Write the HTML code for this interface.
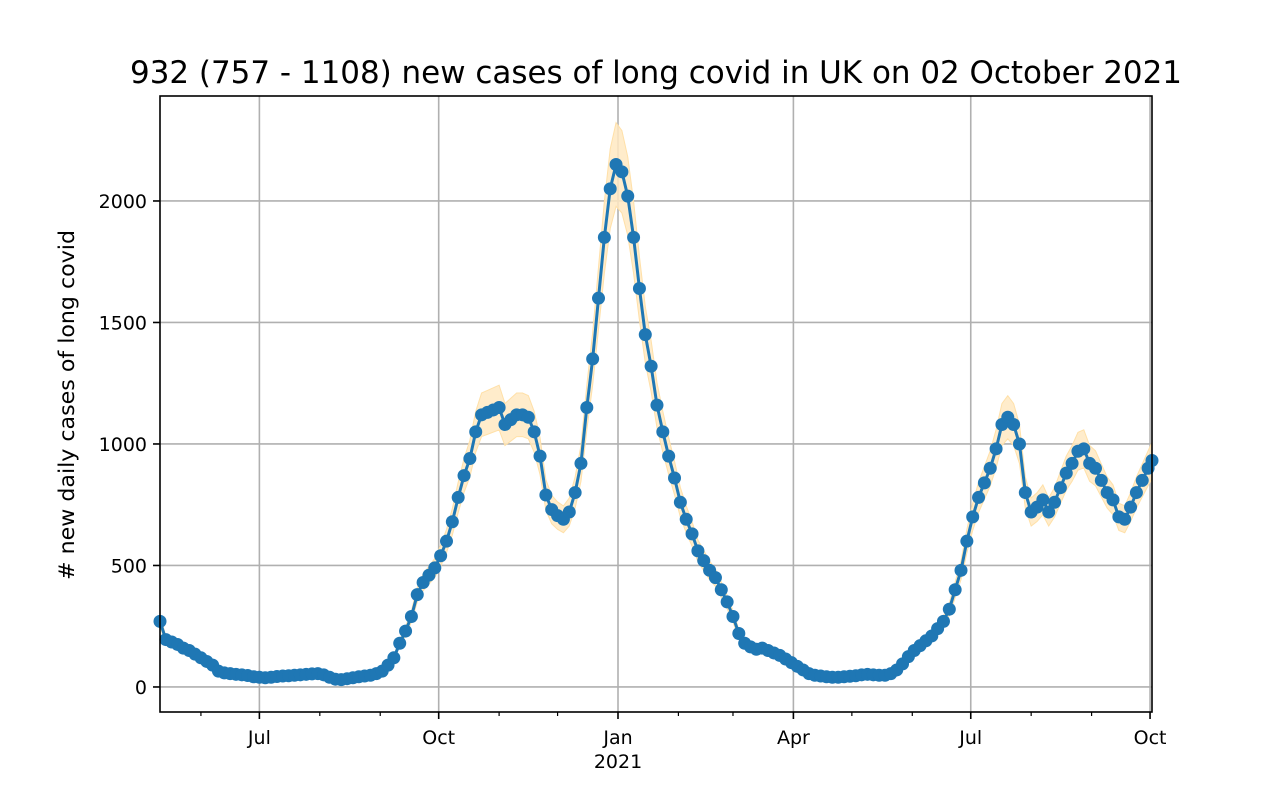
<!DOCTYPE html>
<html><head><meta charset="utf-8">
<style>
html,body{margin:0;padding:0;background:#fff;width:1280px;height:800px;overflow:hidden}
svg{font-family:"DejaVu Sans","Liberation Sans",sans-serif}
</style></head>
<body>
<svg id="chart" width="1280" height="800" viewBox="0 0 1280 800" xmlns="http://www.w3.org/2000/svg">
<rect width="1280" height="800" fill="#fff"/>
<text x="656" y="83" text-anchor="middle" font-size="31" textLength="1052" lengthAdjust="spacingAndGlyphs" fill="#000">932 (757 - 1108) new cases of long covid in UK on 02 October 2021</text>
<text transform="translate(74,405) rotate(-90)" text-anchor="middle" font-size="21" textLength="350" lengthAdjust="spacingAndGlyphs" fill="#000"># new daily cases of long covid</text>
<g id="grid"></g>
<g id="band"></g>
<g id="series"></g>
<g id="axes"></g>
</svg>
<script>
// Data: start 2020-05-11, one value every 3 days, plus final value on 2021-10-02
const startDate = "2020-05-11";
const stepDays = 3;
const values = [270,195,185,175,160,150,135,120,105,90,65,58,55,52,50,47,42,40,38,40,43,45,46,48,50,52,54,55,50,40,32,30,34,38,42,45,48,55,65,90,120,180,230,290,380,430,460,490,540,600,680,780,870,940,1050,1120,1130,1140,1150,1080,1100,1120,1120,1110,1050,950,790,730,705,690,720,800,920,1150,1350,1600,1850,2050,2150,2120,2020,1850,1640,1450,1320,1160,1050,950,860,760,690,630,560,520,480,450,400,350,290,220,180,165,155,160,150,140,130,115,100,85,70,55,48,45,42,40,40,42,44,46,50,52,50,48,48,55,70,95,125,150,170,190,210,240,270,320,400,480,600,700,780,840,900,980,1080,1110,1080,1000,800,720,740,770,720,760,820,880,920,970,980,920,900,850,800,770,700,690,740,800,850,900];
const finalDate = "2021-10-02";
const finalValue = 932;
const yTicks = [0,500,1000,1500,2000];
const yTickLabels = ["0","500","1000","1500","2000"];
const xMajorDates = ["2020-07-01","2020-10-01","2021-01-01","2021-04-01","2021-07-01","2021-10-01"];
const xMajorLabels = ["Jul","Oct","Jan","Apr","Jul","Oct"];
const xMinorDates = ["2020-06-01","2020-08-01","2020-09-01","2020-11-01","2020-12-01","2021-02-01","2021-03-01","2021-05-01","2021-06-01","2021-08-01","2021-09-01"];

const L=160,R=1152,T=96,B=712;
const DAY=86400000;
const d0=Date.parse(startDate), d1=Date.parse(finalDate);
const yMin=-103, yMax=2432;
function xs(ms){return L+(ms-d0)/(d1-d0)*(R-L);}
function ys(v){return B-(v-yMin)/(yMax-yMin)*(B-T);}
const NS="http://www.w3.org/2000/svg";
function mk(tag,parent,attrs){const e=document.createElementNS(NS,tag);for(const k in attrs)e.setAttribute(k,attrs[k]);parent.appendChild(e);return e;}

const pts=values.map((v,i)=>[d0+i*stepDays*DAY,v]);
pts.push([d1,finalValue]);

const grid=document.getElementById('grid');
yTicks.forEach(v=>{const l=mk('line',grid,{x1:L,x2:R,y1:ys(v),y2:ys(v),stroke:'#b0b0b0','stroke-width':1.6});

});
xMajorDates.forEach(d=>{const x=xs(Date.parse(d));const l=mk('line',grid,{x1:x,x2:x,y1:T,y2:B,stroke:'#b0b0b0','stroke-width':1.6});

});

const band=document.getElementById('band');
let up=pts.map(p=>xs(p[0])+','+ys(p[1]*1.08)).join(' ');
let lo=pts.slice().reverse().map(p=>xs(p[0])+','+ys(p[1]*0.92)).join(' ');
const bp=mk('polygon',band,{points:up+' '+lo,fill:'#ffe9c2','fill-opacity':0.85,stroke:'#ffe0a8','stroke-width':1});



const ser=document.getElementById('series');
const line=mk('polyline',ser,{points:pts.map(p=>xs(p[0])+','+ys(p[1])).join(' '),fill:'none',stroke:'#1f77b4','stroke-width':3});


pts.forEach(p=>{const c=mk('circle',ser,{cx:xs(p[0]),cy:ys(p[1]),r:6.5,fill:'#1f77b4'});

});

const ax=document.getElementById('axes');
const frame=mk('rect',ax,{x:L,y:T,width:R-L,height:B-T,fill:'none',stroke:'#000','stroke-width':1.6});


yTicks.forEach((v,i)=>{const y=ys(v);mk('line',ax,{x1:L-7,x2:L,y1:y,y2:y,stroke:'#000','stroke-width':1.6});
const t=mk('text',ax,{x:L-13,y:y+7,'text-anchor':'end','font-size':19,fill:'#000'});t.textContent=yTickLabels[i];

});
xMajorDates.forEach((d,i)=>{const x=xs(Date.parse(d));mk('line',ax,{x1:x,x2:x,y1:B,y2:B+7,stroke:'#000','stroke-width':1.6});
const t=mk('text',ax,{x:x,y:B+32,'text-anchor':'middle','font-size':19,fill:'#000'});t.textContent=xMajorLabels[i];

});
xMinorDates.forEach(d=>{const x=xs(Date.parse(d));mk('line',ax,{x1:x,x2:x,y1:B,y2:B+4,stroke:'#000','stroke-width':1.2});});
const yr=mk('text',ax,{x:xs(Date.parse("2021-01-01")),y:B+56,'text-anchor':'middle','font-size':19,fill:'#000'});yr.textContent="2021";


</script>
</body></html>
